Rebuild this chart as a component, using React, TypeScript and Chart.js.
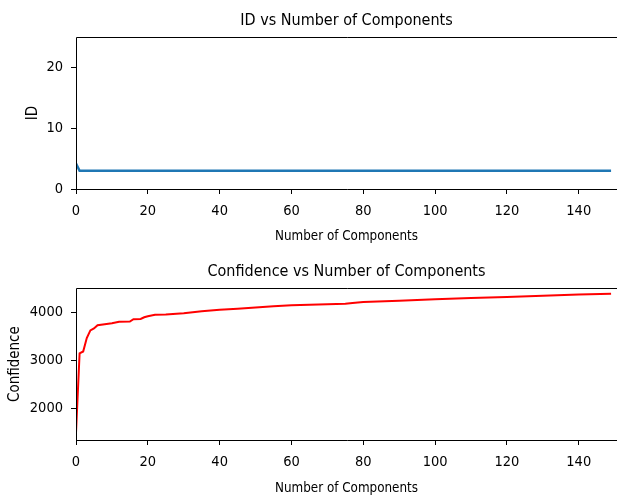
import React, { useEffect, useRef } from "react";
import { Chart, registerables } from "chart.js";

Chart.register(...registerables);

// ---- data ----
const idComponents = [0, 1, 2, 149];
const idValues = [4.2, 3.0, 3.0, 3.0];

const confComponents = [0, 1, 2, 3, 4, 5, 6, 8, 10, 12, 15, 16, 18, 19, 20, 22, 25, 30, 35, 40, 45, 50, 55, 60, 65, 70, 75, 77, 80, 90, 100, 110, 120, 130, 140, 149];
const confValues = [1490, 3150, 3190, 3470, 3630, 3670, 3740, 3760, 3780, 3810, 3815, 3865, 3870, 3905, 3925, 3955, 3965, 3990, 4030, 4060, 4085, 4110, 4135, 4158, 4166, 4175, 4186, 4205, 4222, 4250, 4280, 4305, 4330, 4355, 4380, 4396];

const topTitle = "ID vs Number of Components";
const bottomTitle = "Confidence vs Number of Components";
const xAxisLabel = "Number of Components";
const idAxisLabel = "ID";
const confAxisLabel = "Confidence";

const xRange = [0, 150.65];
const idRange = [0, 25];
const confRange = [1340, 4512];
const xTicks = [0, 20, 40, 60, 80, 100, 120, 140];
const idTicks = [0, 10, 20];
const confTicks = [2000, 3000, 4000];

const FONT = '"DejaVu Sans Condensed", "DejaVu Sans", sans-serif';

const boxPlugin = {
  id: "box",
  afterDraw(chart: any) {
    const { ctx, chartArea } = chart;
    const l = Math.round(chartArea.left) + 0.5;
    const t = Math.round(chartArea.top) + 0.5;
    const b = Math.round(chartArea.bottom) + 0.5;
    const r = chartArea.right + 5;
    ctx.save();
    ctx.strokeStyle = "#000";
    ctx.lineWidth = 1;
    ctx.beginPath();
    ctx.moveTo(r, t);
    ctx.lineTo(l, t);
    ctx.lineTo(l, b);
    ctx.lineTo(r, b);
    ctx.stroke();
    ctx.restore();
  },
};

function makeConfig(p: {
  xs: number[];
  ys: number[];
  color: string;
  width: number;
  title: string;
  titlePad: { top: number; bottom: number };
  yLabel: string;
  yLabelPad: number;
  yMin: number;
  yMax: number;
  yTicks: number[];
  xScaleHeight: number;
  xLabelPad: number;
}): any {
  const data = p.xs.map((x, i) => ({ x, y: p.ys[i] }));
  const tickFont = { family: FONT, size: 14.5 };
  return {
    type: "line",
    data: {
      datasets: [
        {
          data,
          borderColor: p.color,
          borderWidth: p.width,
          pointRadius: 0,
          fill: false,
          tension: 0,
        },
      ],
    },
    options: {
      animation: false,
      responsive: false,
      layout: { padding: { left: 0, right: 0, top: 0, bottom: 0 } },
      plugins: {
        legend: { display: false },
        tooltip: { enabled: false },
        title: {
          display: true,
          fullSize: false,
          text: p.title,
          color: "#000",
          font: { family: FONT, size: 16, weight: "normal" },
          padding: p.titlePad,
        },
      },
      scales: {
        x: {
          type: "linear",
          min: xRange[0],
          max: xRange[1],
          afterBuildTicks(s: any) {
            s.ticks = xTicks.map((v) => ({ value: v }));
          },
          ticks: { color: "#000", font: tickFont, padding: 9, maxRotation: 0, callback: (v: any) => String(v) },
          grid: { display: true, drawOnChartArea: false, drawTicks: true, tickLength: 5, color: "#000" },
          border: { display: false },
          title: {
            display: true,
            text: xAxisLabel,
            color: "#000",
            font: { family: FONT, size: 13.3 },
            padding: { top: 0, bottom: p.xLabelPad },
          },
          afterFit(s: any) {
            s.height = p.xScaleHeight;
          },
        },
        y: {
          type: "linear",
          min: p.yMin,
          max: p.yMax,
          afterBuildTicks(s: any) {
            s.ticks = p.yTicks.map((v) => ({ value: v }));
          },
          ticks: { color: "#000", font: tickFont, padding: 8, callback: (v: any) => String(v) },
          grid: { display: true, drawOnChartArea: false, drawTicks: true, tickLength: 5, color: "#000" },
          border: { display: false },
          title: {
            display: true,
            text: p.yLabel,
            color: "#000",
            font: { family: FONT, size: 15 },
            padding: { top: p.yLabelPad, bottom: 0 },
          },
          afterFit(s: any) {
            s.width = 76;
          },
        },
      },
    },
    plugins: [boxPlugin],
  };
}

export default function App() {
  const topRef = useRef<HTMLCanvasElement>(null);
  const botRef = useRef<HTMLCanvasElement>(null);

  useEffect(() => {
    document.body.style.margin = "0";
    const c1 = new Chart(
      topRef.current as HTMLCanvasElement,
      makeConfig({
        xs: idComponents,
        ys: idValues,
        color: "#1f77b4",
        width: 2.5,
        title: topTitle,
        titlePad: { top: 11, bottom: 7 },
        yLabel: idAxisLabel,
        yLabelPad: 24,
        yMin: idRange[0],
        yMax: idRange[1],
        yTicks: idTicks,
        xScaleHeight: 58,
        xLabelPad: 2,
      })
    );
    const c2 = new Chart(
      botRef.current as HTMLCanvasElement,
      makeConfig({
        xs: confComponents,
        ys: confValues,
        color: "#ff0000",
        width: 2,
        title: bottomTitle,
        titlePad: { top: 15, bottom: 7 },
        yLabel: confAxisLabel,
        yLabelPad: 6,
        yMin: confRange[0],
        yMax: confRange[1],
        yTicks: confTicks,
        xScaleHeight: 57,
        xLabelPad: 0,
      })
    );
    return () => {
      c1.destroy();
      c2.destroy();
    };
  }, []);

  return (
    <div style={{ position: "relative", width: 617, height: 495, background: "#fff", overflow: "hidden" }}>
      <canvas ref={topRef} width={617} height={247} style={{ position: "absolute", left: 0, top: 0, width: 617, height: 247 }} />
      <canvas ref={botRef} width={617} height={250} style={{ position: "absolute", left: 0, top: 247, width: 617, height: 250 }} />
    </div>
  );
}
